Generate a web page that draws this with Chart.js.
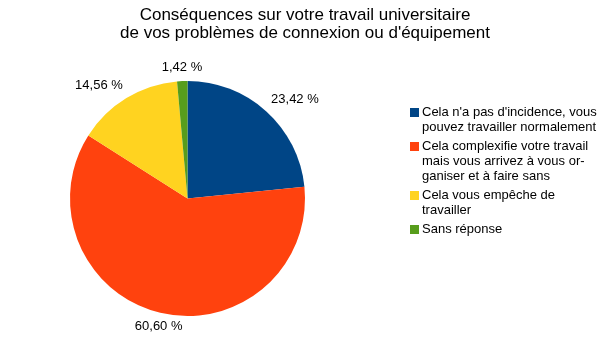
<!DOCTYPE html>
<html>
<head>
<meta charset="utf-8">
<script src="https://cdn.jsdelivr.net/npm/chart.js@4/dist/chart.umd.min.js"></script>
<style>
  html, body { margin: 0; padding: 0; background: #fff; }
  #wrap { width: 614px; height: 340px; position: relative; }
</style>
</head>
<body>
<div id="wrap"><canvas id="pie"></canvas></div>
<script>
// Réponses (en %)
const categories = [
  ["Cela n'a pas d'incidence, vous", "pouvez travailler normalement"],
  ["Cela complexifie votre travail", "mais vous arrivez à vous or-", "ganiser et à faire sans"],
  ["Cela vous empêche de", "travailler"],
  ["Sans réponse"]
];
const values = [23.42, 60.60, 14.56, 1.42];
const valueLabels = ["23,42 %", "60,60 %", "14,56 %", "1,42 %"];
const colors = ['#004586', '#ff420e', '#ffd320', '#579d1c'];
const titleLines = [
  "Conséquences sur votre travail universitaire",
  "de vos problèmes de connexion ou d'équipement"
];

const FONT = '"Liberation Sans", Arial, sans-serif';

// title, outside value labels and the legend on the right
const decorations = {
  id: 'decorations',
  afterDraw(chart) {
    const ctx = chart.ctx;
    ctx.save();
    ctx.fillStyle = '#000';

    // title
    ctx.font = '17px ' + FONT;
    ctx.textAlign = 'center';
    ctx.textBaseline = 'middle';
    titleLines.forEach((t, i) => ctx.fillText(t, 305, 15 + i * 18));

    // value labels
    ctx.font = '13px ' + FONT;
    const meta = chart.getDatasetMeta(0);
    meta.data.forEach((arc, i) => {
      const mid = (arc.startAngle + arc.endAngle) / 2;
      const r = arc.outerRadius + 7;
      const x = arc.x + Math.cos(mid) * r;
      const y = arc.y + Math.sin(mid) * r;
      const c = Math.cos(mid), s = Math.sin(mid);
      ctx.textAlign = Math.abs(c) < 0.3 ? 'center' : (c > 0 ? 'left' : 'right');
      ctx.textBaseline = s < -0.3 ? 'bottom' : (s > 0.3 ? 'top' : 'middle');
      ctx.fillText(valueLabels[i], x, y);
    });

    // legend
    ctx.textAlign = 'left';
    ctx.textBaseline = 'middle';
    let y = 112;
    categories.forEach((lines, i) => {
      ctx.fillStyle = colors[i];
      ctx.fillRect(410, y - 4, 9, 9);
      ctx.fillStyle = '#000';
      lines.forEach((ln) => {
        ctx.fillText(ln, 422, y);
        y += 15;
      });
      y += 4;
    });
    ctx.restore();
  }
};

new Chart(document.getElementById('pie'), {
  type: 'pie',
  data: {
    labels: categories.map(c => c.join(' ')),
    datasets: [{
      data: values,
      backgroundColor: colors,
      borderWidth: 0
    }]
  },
  options: {
    responsive: true,
    maintainAspectRatio: false,
    animation: false,
    layout: { padding: { left: 70, right: 309, top: 81, bottom: 24 } },
    plugins: {
      legend: { display: false },
      title: { display: false },
      tooltip: { enabled: false }
    }
  },
  plugins: [decorations]
});
</script>
</body>
</html>
